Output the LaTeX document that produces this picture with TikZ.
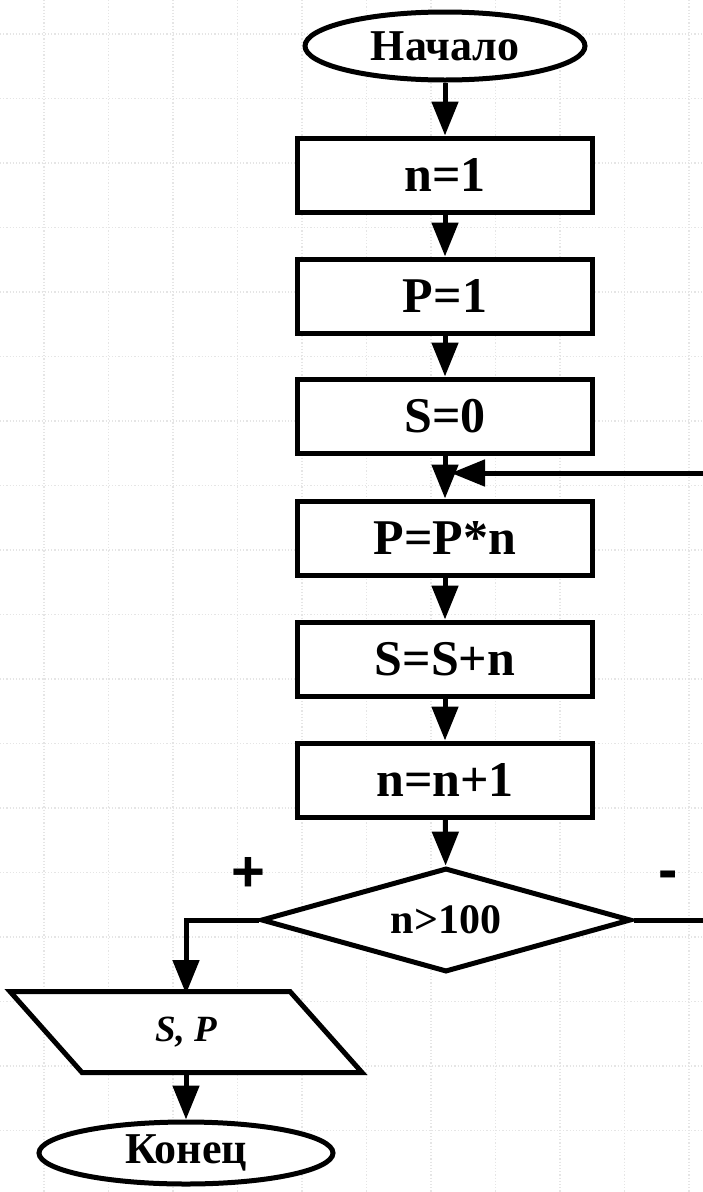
\documentclass[tikz,border=0pt]{standalone}
\usepackage{fontspec}
\setmainfont{Liberation Serif}
\newfontfamily\signfont{Liberation Sans}
\usetikzlibrary{arrows.meta,shapes.geometric}

\begin{document}
\begin{tikzpicture}[x=1pt, y=-1pt,
  gridline/.style={black!10, dotted, line width=1.2pt},
  act/.style={draw, fill=white, rectangle, line width=5pt, inner sep=0pt,
    minimum width=295pt, minimum height=74pt, font=\fontsize{50}{50}\selectfont\bfseries},
  term/.style={draw, fill=white, ellipse, line width=5pt, inner sep=0pt,
    font=\fontsize{44}{44}\selectfont\bfseries},
  cond/.style={draw, fill=white, diamond, aspect=3.5, line width=5pt, inner sep=0pt,
    minimum width=370pt, minimum height=104pt, font=\fontsize{42}{42}\selectfont\bfseries},
  io/.style={rectangle, line width=5pt, inner sep=0pt,
    minimum width=275pt, minimum height=76pt, font=\fontsize{37}{37}\selectfont\bfseries\itshape},
  sign/.style={font=\signfont\fontsize{58}{58}\selectfont\bfseries, inner sep=0pt},
  flow/.style={line width=5pt, -{Triangle[length=34pt, width=26pt]}}]
  \useasboundingbox (0,0) rectangle (703,1192);
  \fill[white] (0,0) rectangle (703,1192);
  \foreach \k in {0,...,10}
    \draw[gridline] ({44+64.5*\k},0) -- ({44+64.5*\k},1192);
  \foreach \k in {0,...,17}
    \draw[gridline] (0,{34+64.5*\k}) -- (703,{34+64.5*\k});

  \node[term, minimum width=280pt, minimum height=68pt] (start) at (445,46) {Начало};
  \node[act] (n1) at (445,175) {n=1};
  \node[act] (p1) at (445,296) {P=1};
  \node[act] (s0) at (445,416) {S=0};
  \node[act] (pmul) at (445,538) {P=P*n};
  \node[act] (sadd) at (445,659) {S=S+n};
  \node[act] (ninc) at (445,780) {n=n+1};
  \node[cond] (check) at (446,920) {n>100};
  \node[io] (out) at (186,1032) {};
  \draw[line width=5pt, fill=white] ([xshift=-36pt]out.north west) -- ([xshift=-36pt]out.north east)
    -- ([xshift=36pt]out.south east) -- ([xshift=36pt]out.south west) -- cycle;
  \node[io] at (out) {S, P};
  \node[term, minimum width=294pt, minimum height=62pt] (stop) at (186,1153) {Конец};
  \node[sign] (yes) at (248,874) {+};
  \node[sign] (no) at (668,880) {-};
  \coordinate (rim) at (720,473);
  \coordinate (merge) at (451,473);

  \draw[flow] (start) -- (n1);
  \draw[flow] (n1) -- (p1);
  \draw[flow] (p1) -- (s0);
  \draw[flow] (s0) -- (pmul);
  \draw[flow] (pmul) -- (sadd);
  \draw[flow] (sadd) -- (ninc);
  \draw[flow] (ninc) -- (check);
  \draw[flow] (check.west) -| ([yshift=-2.5pt]out.north);
  \draw[flow] ([yshift=2.5pt]out.south) -- (stop);
  \draw[flow] (check.east) -| (rim) -- (merge);
\end{tikzpicture}
\end{document}
